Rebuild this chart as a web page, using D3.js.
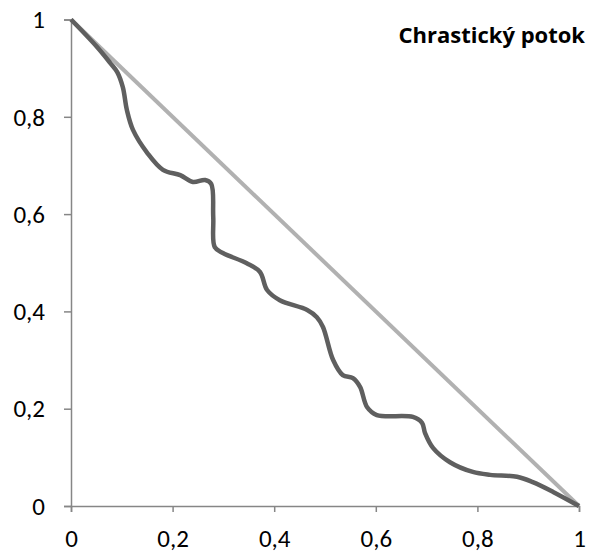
<!DOCTYPE html>
<html><head><meta charset="utf-8">
<script src="https://cdn.jsdelivr.net/npm/d3@7"></script>
<style>body{margin:0;background:#fff}svg{display:block}</style>
</head><body>
<svg id="c" width="589" height="556"></svg>
<script>
const title = "Chrastický potok";
const tickValues = [0, 0.2, 0.4, 0.6, 0.8, 1];
const tickLabels = ["0", "0,2", "0,4", "0,6", "0,8", "1"];
const equalityX = [0, 1];
const equalityY = [1, 0];
const curveX = [0, 0.05, 0.077, 0.091, 0.102, 0.110, 0.122, 0.150, 0.181, 0.215, 0.240, 0.264, 0.276, 0.280, 0.283, 0.299, 0.346, 0.372, 0.386, 0.411, 0.465, 0.484, 0.496, 0.516, 0.535, 0.555, 0.569, 0.583, 0.602, 0.673, 0.691, 0.697, 0.713, 0.746, 0.791, 0.825, 0.878, 0.909, 0.949, 1];
const curveY = [1, 0.945, 0.911, 0.892, 0.861, 0.814, 0.773, 0.726, 0.691, 0.680, 0.666, 0.670, 0.662, 0.594, 0.532, 0.520, 0.499, 0.481, 0.444, 0.423, 0.403, 0.388, 0.368, 0.300, 0.269, 0.263, 0.245, 0.203, 0.187, 0.183, 0.171, 0.150, 0.119, 0.090, 0.070, 0.064, 0.060, 0.049, 0.029, 0];

const svg = d3.select("#c");
const x = d3.scaleLinear().domain([0, 1]).range([71, 579]);
const y = d3.scaleLinear().domain([0, 1]).range([506, 19.5]);
const font = "Carlito, 'Open Sans', 'Liberation Sans', sans-serif";
const axisColor = "#868686";

// axes
const xa = svg.append("g").attr("transform", `translate(0,${y(0)})`)
  .call(d3.axisBottom(x).tickValues(tickValues).tickFormat((d,i)=>tickLabels[i]).tickSize(6).tickPadding(17));
const ya = svg.append("g").attr("transform", `translate(${x(0)},0)`)
  .call(d3.axisLeft(y).tickValues(tickValues).tickFormat((d,i)=>tickLabels[i]).tickSize(7).tickPadding(19));
[xa, ya].forEach(g => {
  g.select(".domain").attr("stroke", axisColor).attr("stroke-width", 1.5);
  g.selectAll(".tick line").attr("stroke", axisColor).attr("stroke-width", 1.5);
  g.selectAll(".tick text").attr("fill", "#000").style("font-family", font).style("font-size", "25px");
});
xa.selectAll(".tick text").attr("dy", "0.7em");
ya.selectAll(".tick text").attr("dy", "0.33em");

const line = d3.line().x(d => x(d[0])).y(d => y(d[1]));
svg.append("path").datum(equalityX.map((v,i)=>[v, equalityY[i]]))
  .attr("d", line).attr("fill", "none").attr("stroke", "#b1b1b1").attr("stroke-width", 4);
svg.append("path").datum(curveX.map((v,i)=>[v, curveY[i]]))
  .attr("d", line.curve(d3.curveCatmullRom.alpha(0.5))).attr("fill", "none")
  .attr("stroke", "#5f5f5f").attr("stroke-width", 4.5).attr("stroke-linejoin", "round");

svg.append("text").attr("x", 585).attr("y", 43).attr("text-anchor", "end")
  .style("font-family", "'Open Sans', sans-serif").style("font-weight", "bold").style("font-size", "22px")
  .text(title);
</script>
</body></html>
